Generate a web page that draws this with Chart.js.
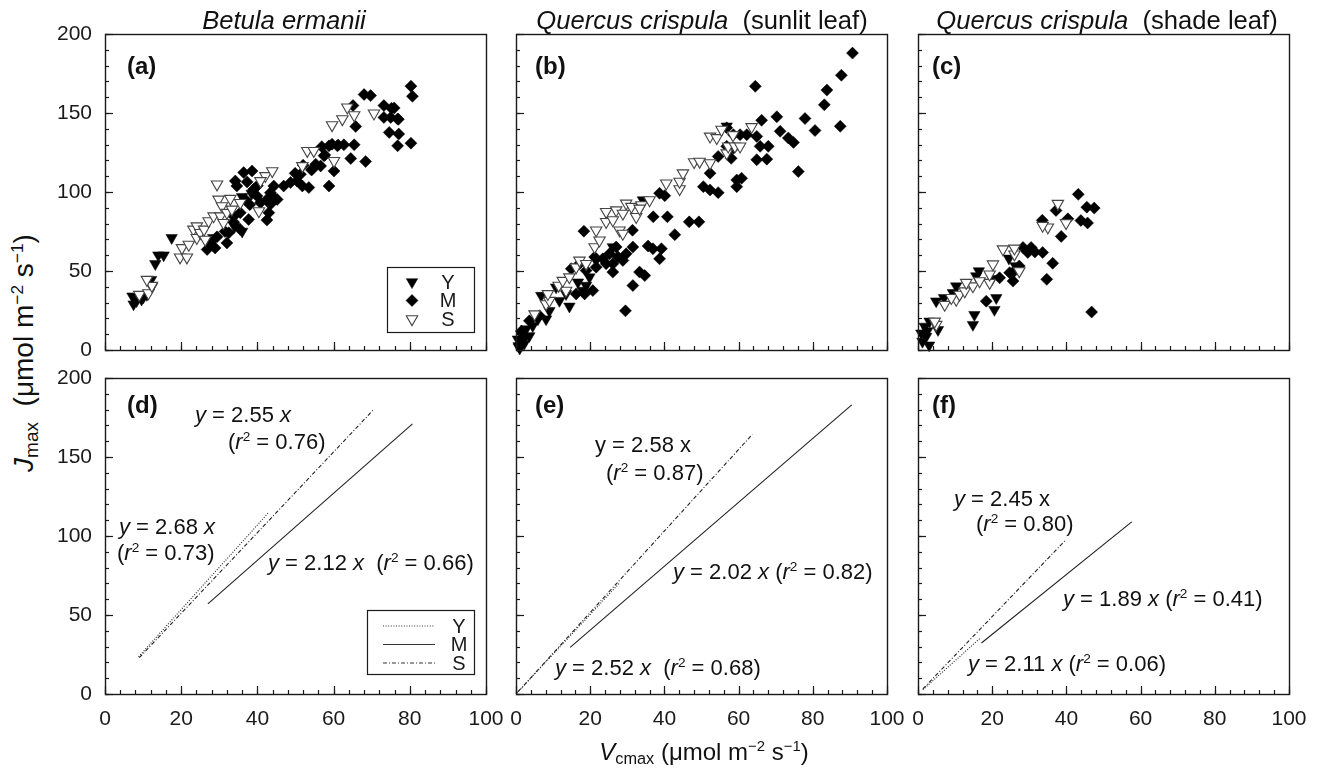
<!DOCTYPE html>
<html>
<head>
<meta charset="utf-8">
<script src="https://cdn.jsdelivr.net/npm/chart.js@4.4.1/dist/chart.umd.min.js"></script>
<style>
  body { margin: 0; background: #fff; width: 1325px; height: 773px; position: relative; overflow: hidden;
         font-family: 'Liberation Sans', Arial, Helvetica, sans-serif; color: #111; }
  canvas { position: absolute; }
  .t { position: absolute; white-space: nowrap; line-height: 1; transform: translateY(-50%); font-size: 22px; }
  .t sup, .ax sup { font-size: 0.62em; vertical-align: 0.6em; line-height: 0; }
  .ax sub { font-size: 0.68em; vertical-align: -0.25em; line-height: 0; }
  .title { position: absolute; white-space: nowrap; line-height: 1; transform: translate(-50%, -50%); font-size: 25.6px; }
  .lab { position: absolute; white-space: nowrap; line-height: 1; transform: translateY(-50%); font-size: 24px; font-weight: bold; }
  .ax { position: absolute; white-space: nowrap; line-height: 1; }
</style>
</head>
<body>
<script>
/* ─── Axis ticks ─────────────────────────────────────────────────────────── */
const X_TICKS = [0, 20, 40, 60, 80, 100];
const Y_TICKS = [0, 50, 100, 150, 200];

/* ─── (a) Betula ermanii : [Vcmax, Jmax] ──────────────────────────────────── */
const A_Y = [[7.5,29],[8.3,31],[7.2,34],[9.6,32],[10.1,33.5],[11,35],[12.3,40],[12.1,44.5],[13.2,54.5],
  [14,60],[15.4,60],[17.5,71],[27,67.5],[28.4,71],[34,78],[36,75],[36,97],[38.5,99]];
const A_M = [[26.8,63.6],[27.8,68.9],[28.9,64.6],[29.4,71.6],[32,67.8],[32.5,74.2],[31.5,75],[33.8,80.9],
  [35.5,76.3],[37.7,82.6],[36.4,112.3],[38.6,113.3],[34.2,107],[34.6,103.8],[37.3,106.4],[39,101.7],
  [36.8,95.3],[39.9,97.5],[40.8,93.2],[42.5,95.3],[43.4,99.6],[44.3,103.8],[45.2,95.3],[43,86.9],
  [42.5,82.2],[43.4,92.2],[44.2,97],[40,104],[38,92],[35.5,86.9],[33.8,84.7],[46.9,103.8],[48.7,106],
  [50.4,107],[49.9,111.8],[51.8,103.8],[53.5,102.8],[51.3,111.2],[52,117],[54.2,114],[54.4,114.4],
  [55.3,117.6],[56.6,116.5],[57.5,122.9],[57.7,123.4],[56.9,128.7],[58.8,129.2],[59.6,130.3],[61.2,129.7],
  [60.1,113.3],[58.8,103.8],[61,129.2],[62.7,129.9],[65.4,129.9],[64.5,121.2],[68.4,119.3],[65.8,141.5],
  [65.1,154.7],[68,161.7],[69.7,161],[73.2,154.7],[73.2,147.2],[75,147.2],[75.2,153],[75.9,153.2],
  [77,146],[76.8,146.2],[74.6,137.7],[77.1,136.7],[76.8,129.2],[80.3,130.9],[80.3,167],[80.7,160.6]];
const A_S = [[9,35],[11.4,36],[12.3,40.7],[11,44.5],[19.7,58.7],[21.5,58.7],[20.2,64.6],[22,66.7],
  [23.2,76.3],[24.1,78.4],[24.1,71],[25,74.2],[26.3,69.9],[26,76.3],[27.2,81.6],[28.5,84.7],[29.4,104.9],
  [29.8,95.3],[30.7,91.1],[30.3,84.7],[31.1,80.5],[32,86.9],[32.9,95.8],[33.3,89],[35.5,93.2],[40.4,87.9],
  [42.1,110.2],[43.9,113.3],[40.8,107],[51.8,116.5],[53.1,126.1],[54.8,126.1],[60.1,119.7],[59.6,142.4],
  [62.3,146.2],[63.6,153.6],[65.4,148.7],[70.6,149.8]];

/* ─── (b) Quercus crispula, sunlit ────────────────────────────────────────── */
const B_Y = [[0.7,2.5],[1,1],[2.2,4],[1.8,5.7],[0.5,6.8],[3.6,8.9],[1.4,10],[2.7,13.2],[4.5,15.3],[5.9,19.5],
  [8.1,19.5],[9,24.8],[14.4,27.6],[11.7,31.2],[6.8,34.4],[13.5,35.5],[18,37.6],[10.8,39.7],[18.9,40.8],
  [16.7,42.9],[19.8,46.1],[21.6,56.7],[26.1,65.2],[34.2,94.9],[56.8,141.6]];
const B_M = [[0.9,3.6],[2,8],[1.5,12],[3.6,18.5],[6.3,21.7],[16.2,35.5],[18.5,35.5],[20.7,37.6],[18.9,50.3],
  [14.9,51.4],[17.1,54.6],[21.6,52.4],[21.2,58.8],[18.3,75.2],[23.4,57.7],[24.3,54.6],[25.2,60.9],[26.1,54.6],
  [26.1,49.3],[27,65.2],[27.5,58.8],[28.8,56.7],[29.7,60.9],[31.5,65.2],[29.5,24.8],[31.5,40.8],[33.3,49.3],
  [34.7,47.1],[31.4,75.8],[35.6,65.8],[36.9,64.1],[39.2,64.1],[38.7,57.7],[37,84.3],[40.8,84.3],[42.8,73],
  [46.7,81.1],[49.3,81.1],[38.7,99.2],[40.1,97.7],[50.5,103.4],[52.3,101.3],[54.5,99.6],[52.3,111.9],
  [59.5,103.4],[60.8,108.7],[59.5,107.6],[54.5,122.5],[58,121.3],[56.8,128.9],[58.6,127.8],[56.8,140.6],
  [58.6,136.3],[60.4,136.3],[62.2,136.3],[64.9,135.2],[65.8,128.9],[68,128.9],[64.9,120.4],[67.6,120.8],
  [76.1,112.9],[64.5,166.9],[66.2,145.4],[70.3,147.6],[71.2,138.4],[73.4,134.2],[74.8,131.4],[77.9,146.5],
  [80.6,138.9],[83.1,155.2],[83.8,164.5],[87.4,141.6],[87.7,173.9],[90.7,187.9]];
const B_S = [[5,22.7],[8.1,29.1],[9,31.2],[8.6,35.5],[13.5,37.6],[11.5,40.8],[12.6,43.9],[14.4,46.1],
  [16.2,52.4],[17.1,56.7],[18.9,54.6],[21.2,65.2],[22.5,69.4],[21.6,75.8],[27.9,75.8],[28.8,73.7],[24.3,81.1],
  [26.1,82.2],[24.3,87.5],[27,88.5],[28.8,86.4],[29.7,92.8],[31.1,90.7],[32.4,84.3],[33.8,91.7],[33.3,89.6],
  [36,94.9],[40.5,105.5],[44.1,101.9],[44.1,106.6],[45,111.9],[48,119],[49.5,119.3],[52.3,118.3],[52.3,135.2],
  [54.1,134.2],[55.4,139.5],[56.8,124.6],[57.2,128.9],[59,128.9],[60.4,128.9],[58.5,136],[63.5,141.2]];

/* ─── (c) Quercus crispula, shade ─────────────────────────────────────────── */
const C_Y = [[3,3],[1.2,5.3],[2.2,8.5],[0.9,10.6],[2.5,12],[5.4,12.8],[1.8,14.9],[3.1,18.1],[14.8,16],
  [15.2,22.3],[20.6,25.5],[4.9,30.9],[7,33],[21.1,33],[9.4,36.2],[10.3,40.4],[20,45],[15.7,46.8],[16.4,50],
  [26.3,53.2],[24.5,58]];
const C_M = [[18.4,30.9],[46.8,24],[25.6,43.6],[34.7,44.7],[22,45.7],[24.7,48.9],[26,50],[27.3,53.2],
  [36.3,54.9],[29.6,61.7],[33.6,61.7],[31.5,62],[30.5,64.9],[28.3,64.9],[38.6,71.9],[45.7,80.4],[43.9,81.9],
  [33.5,82.1],[40.4,83],[37.2,88.3],[47.5,89.8],[45.5,90.4],[43.2,98.5]];
const C_S = [[4.9,16],[4.5,18.1],[7.2,28.7],[10.3,31.9],[9,33],[11.2,35.1],[12.6,37.2],[14.8,40.4],
  [13,42.6],[19.3,42.6],[16.6,43.6],[19.3,47.9],[27.3,50],[20.2,54.3],[26,60.6],[22.9,63.8],[26,64.3],
  [35,77.7],[33.6,78.7],[39.9,80.4],[37.7,92.6]];

/* ─── (d)–(f) regression lines: end points ───────────────────────────────── */
const D_Y = [[8.8,23.5],[43,115]];
const D_M = [[27,57],[80.7,171]];
const D_S = [[9,23],[70.5,180]];
const E_Y = [[0.3,0.8],[28,70.5]];
const E_M = [[14.6,29.5],[90.5,183]];
const E_S = [[0.5,1.3],[63.7,164.3]];
const F_Y = [[1.3,2.7],[16.8,35.4]];
const F_M = [[17.1,32.3],[57.6,108.9]];
const F_S = [[1.3,3.2],[39.6,97]];

/* ─── Styles ─────────────────────────────────────────────────────────────── */
const FONT = "'Liberation Sans', Arial, Helvetica, sans-serif";
const INK  = '#1a1a1a';
const SERIES = [
  { name: 'Y', style: 'triangle', rot: 180, r: 6.6, fill: '#000', stroke: '#000', bw: 0.5, dash: [1, 1.6],     order: 2 },
  { name: 'M', style: 'rectRot',  rot: 0,   r: 6,   fill: '#000', stroke: '#000', bw: 0.5, dash: [],           order: 1 },
  { name: 'S', style: 'triangle', rot: 180, r: 6.6, fill: '#fff', stroke: '#444', bw: 1.1, dash: [4, 2, 1, 2], order: 0 }
];

/* chart-area boxes in page pixels: [left, top, right, bottom] */
const PANELS = [
  { box: [105, 34, 486, 350],  pts: [A_Y, A_M, A_S], yLab: true,  xLab: false, legend: 'points' },
  { box: [516, 34, 887, 350],  pts: [B_Y, B_M, B_S], yLab: false, xLab: false },
  { box: [918, 34, 1289, 350], pts: [C_Y, C_M, C_S], yLab: false, xLab: false },
  { box: [105, 378, 486, 694], lines: [D_Y, D_M, D_S], yLab: true,  xLab: true, legend: 'lines' },
  { box: [516, 378, 887, 694], lines: [E_Y, E_M, E_S], yLab: false, xLab: true },
  { box: [918, 378, 1289, 694], lines: [F_Y, F_M, F_S], yLab: false, xLab: true }
];

const PAD = { l: 62, t: 14, r: 24, b: 44 };
const TICK_LEN = { x: 8, x2: 4, y: 8, y2: 4 };

/* ─── Helpers ────────────────────────────────────────────────────────────── */
const toXY = arr => arr.map(([x, y]) => ({ x, y }));
const zeroPad = s => { s.paddingLeft = s.paddingRight = s.paddingTop = s.paddingBottom = 0; };

function markerPath(ctx, s, x, y, r) {
  ctx.beginPath();
  if (s.style === 'rectRot') {
    ctx.moveTo(x, y - r); ctx.lineTo(x + r, y); ctx.lineTo(x, y + r); ctx.lineTo(x - r, y);
  } else {
    ctx.moveTo(x, y + r); ctx.lineTo(x - r * 0.866, y - r / 2); ctx.lineTo(x + r * 0.866, y - r / 2);
  }
  ctx.closePath();
}

/* inward tick marks (from the scales' own ticks) and the closed frame */
const framePlugin = {
  id: 'frame',
  beforeDatasetsDraw(chart) {
    const { ctx, chartArea: a, scales } = chart;
    ctx.save();
    ctx.strokeStyle = INK;
    ctx.lineWidth = 1.2;
    for (const id of Object.keys(TICK_LEN)) {
      const s = scales[id], len = TICK_LEN[id];
      s.ticks.forEach(t => {
        const p = Math.round(s.getPixelForValue(t.value)) + 0.5;
        ctx.beginPath();
        if (s.isHorizontal()) { ctx.moveTo(p, a.bottom); ctx.lineTo(p, a.bottom - len); }
        else { ctx.moveTo(a.left, p); ctx.lineTo(a.left + len, p); }
        ctx.stroke();
      });
    }
    ctx.restore();
  },
  afterDraw(chart) {
    const { ctx, chartArea: a } = chart;
    ctx.save();
    ctx.strokeStyle = INK;
    ctx.lineWidth = 1.4;
    ctx.strokeRect(a.left + 0.5, a.top + 0.5, a.right - a.left, a.bottom - a.top);
    ctx.restore();
  }
};

function legendPlugin(kind) {
  return {
    id: 'panelLegend',
    afterDraw(chart) {
      const { ctx, chartArea: a } = chart;
      const pts = kind === 'points';
      const w = pts ? 87 : 107, h = pts ? 65 : 64;
      const bx = a.right - 12 - w, by = a.bottom - (pts ? 18 : 20) - h;
      ctx.save();
      ctx.fillStyle = '#fff';
      ctx.fillRect(bx, by, w, h);
      ctx.strokeStyle = INK;
      ctx.lineWidth = 1.2;
      ctx.strokeRect(bx + 0.5, by + 0.5, w, h);
      ctx.font = `20px ${FONT}`;
      ctx.textAlign = 'center';
      ctx.textBaseline = 'middle';
      SERIES.forEach((s, i) => {
        const y = by + (pts ? 15 : 16) + i * 18.5;
        if (pts) {
          markerPath(ctx, s, bx + 25, y, s.r);
          ctx.fillStyle = s.fill; ctx.fill();
          ctx.strokeStyle = s.stroke; ctx.lineWidth = s.bw; ctx.stroke();
        } else {
          ctx.beginPath();
          ctx.setLineDash(s.dash);
          ctx.moveTo(bx + 16, y); ctx.lineTo(bx + 68, y);
          ctx.strokeStyle = '#333'; ctx.lineWidth = 1; ctx.stroke();
          ctx.setLineDash([]);
        }
        ctx.fillStyle = INK;
        ctx.fillText(s.name, bx + (pts ? 61 : 92), y + 1);
      });
      ctx.restore();
    }
  };
}

function axis(pos, major, showLabels, ticksArr, minorStep) {
  const isX = pos === 'bottom';
  const common = {
    type: 'linear', axis: isX ? 'x' : 'y', position: pos,
    min: ticksArr[0], max: ticksArr[ticksArr.length - 1],
    border: { display: false },
    grid: { display: false, drawTicks: false }
  };
  if (major) {
    return {
      ...common, weight: 1,
      afterBuildTicks: s => { s.ticks = ticksArr.map(v => ({ value: v })); },
      ticks: { display: showLabels, padding: 13, color: INK, font: { size: 21, family: FONT } },
      afterFit: s => { if (isX) s.height = PAD.b; else s.width = PAD.l; zeroPad(s); }
    };
  }
  return {
    ...common, weight: 0,
    ticks: { display: false, stepSize: minorStep },
    afterFit: s => { if (isX) s.height = 0; else s.width = 0; zeroPad(s); }
  };
}

/* ─── Render ─────────────────────────────────────────────────────────────── */
function makePanel(p) {
  const [l, t, r, b] = p.box;
  const cv = document.createElement('canvas');
  cv.width  = r - l + PAD.l + PAD.r;
  cv.height = b - t + PAD.t + PAD.b;
  cv.style.left = (l - PAD.l) + 'px';
  cv.style.top  = (t - PAD.t) + 'px';
  document.body.appendChild(cv);

  let datasets;
  if (p.pts) {
    datasets = SERIES.map((s, i) => ({
      label: s.name, data: toXY(p.pts[i]), xAxisID: 'x', yAxisID: 'y', order: s.order, clip: false,
      pointStyle: s.style, rotation: s.rot, pointRadius: s.r,
      backgroundColor: s.fill, borderColor: s.stroke, borderWidth: s.bw
    }));
  } else {
    datasets = SERIES.map((s, i) => ({
      label: s.name, data: toXY(p.lines[i]), xAxisID: 'x', yAxisID: 'y', order: s.order,
      showLine: true, pointRadius: 0, borderColor: '#222', borderWidth: 1.1, borderDash: s.dash
    }));
  }

  new Chart(cv, {
    type: 'scatter',
    data: { datasets },
    options: {
      responsive: false,
      animation: false,
      events: [],
      layout: { padding: { left: 0, top: PAD.t, right: PAD.r, bottom: 0 } },
      plugins: { legend: { display: false }, tooltip: { enabled: false } },
      scales: {
        x:  axis('bottom', true,  p.xLab, X_TICKS),
        x2: axis('bottom', false, false,  X_TICKS, 4),
        y:  axis('left',   true,  p.yLab, Y_TICKS),
        y2: axis('left',   false, false,  Y_TICKS, 10)
      }
    },
    plugins: p.legend ? [framePlugin, legendPlugin(p.legend)] : [framePlugin]
  });
}

PANELS.forEach(makePanel);

/* ─── Texts ──────────────────────────────────────────────────────────────── */
const R2 = v => `(<i>r</i><sup>2</sup> = ${v})`;
const TEXTS = [
  ['t', 195, 415, '<i>y</i> = 2.55 <i>x</i>'],
  ['t', 228, 442, R2('0.76')],
  ['t', 119, 527, '<i>y</i> = 2.68 <i>x</i>'],
  ['t', 117, 553, R2('0.73')],
  ['t', 268, 563, `<i>y</i> = 2.12 <i>x</i>&nbsp; ${R2('0.66')}`],
  ['t', 595, 445, 'y = 2.58 x'],
  ['t', 606, 473, R2('0.87')],
  ['t', 673, 572, `<i>y</i> = 2.02 <i>x</i> ${R2('0.82')}`],
  ['t', 555, 668, `<i>y</i> = 2.52 <i>x</i>&nbsp; ${R2('0.68')}`],
  ['t', 954, 499, '<i>y</i> = 2.45 x'],
  ['t', 976, 524, R2('0.80')],
  ['t', 1063, 599, `<i>y</i> = 1.89 <i>x</i> ${R2('0.41')}`],
  ['t', 968, 664, `<i>y</i> = 2.11 <i>x</i> ${R2('0.06')}`],
  ['lab', 127, 66, '(a)'], ['lab', 535, 66, '(b)'], ['lab', 932, 66, '(c)'],
  ['lab', 127, 405, '(d)'], ['lab', 535, 405, '(e)'], ['lab', 932, 405, '(f)'],
  ['title', 284, 21, '<i>Betula ermanii</i>'],
  ['title', 702, 21, '<i>Quercus crispula</i>&nbsp; (sunlit leaf)'],
  ['title', 1107, 21, '<i>Quercus crispula</i>&nbsp; (shade leaf)']
];
TEXTS.forEach(([cls, x, y, html]) => {
  const d = document.createElement('div');
  d.className = cls;
  d.style.left = x + 'px';
  d.style.top = y + 'px';
  d.innerHTML = html;
  document.body.appendChild(d);
});

const yTitle = document.createElement('div');
yTitle.className = 'ax';
yTitle.style.cssText = 'left:24px;top:353px;font-size:28px;transform:translate(-50%,-50%) rotate(-90deg);';
yTitle.innerHTML = '<i>J</i><sub>max</sub>&nbsp; (&mu;mol m<sup>&minus;2</sup> s<sup>&minus;1</sup>)';
document.body.appendChild(yTitle);

const xTitle = document.createElement('div');
xTitle.className = 'ax';
xTitle.style.cssText = 'left:704px;top:752px;font-size:24px;transform:translate(-50%,-50%);';
xTitle.innerHTML = '<i>V</i><sub>cmax</sub> (&mu;mol m<sup>&minus;2</sup> s<sup>&minus;1</sup>)';
document.body.appendChild(xTitle);
</script>
</body>
</html>
